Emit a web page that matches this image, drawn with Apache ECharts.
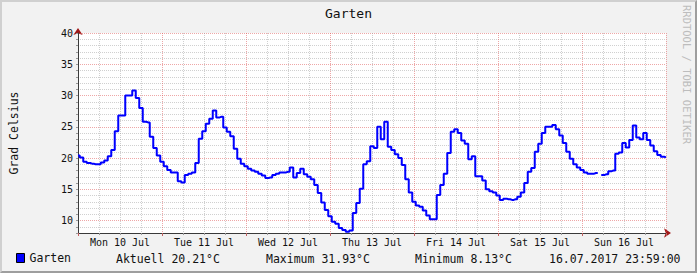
<!DOCTYPE html>
<html><head><meta charset="utf-8">
<script src="https://cdn.jsdelivr.net/npm/echarts@6/dist/echarts.min.js"></script>
<style>
html,body{margin:0;padding:0;background:#f2f2f2;}
#wrap{position:relative;width:697px;height:273px;}
#c{width:697px;height:273px;}
#frame{position:absolute;left:0;top:0;width:697px;height:273px;box-sizing:border-box;border-style:solid;border-width:2px;border-color:#d0d0d0 #9e9e9e #9e9e9e #d0d0d0;pointer-events:none;}
</style></head>
<body><div id="wrap"><div id="c"></div><div id="frame"></div></div>
<script>
// ---- data ----
const chartTitle = 'Garten';
const yAxisName = 'Grad Celsius';
const seriesName = 'Garten';
const dayLabels = ['Mon 10 Jul','Tue 11 Jul','Wed 12 Jul','Thu 13 Jul','Fri 14 Jul','Sat 15 Jul','Sun 16 Jul'];
const yTickLabels = [10, 15, 20, 25, 30, 35, 40];
const legendStats = ['Aktuell 20.21°C', 'Maximum 31.93°C', 'Minimum 8.13°C', '16.07.2017 23:59:00'];
const watermark = 'RRDTOOL / TOBI OETIKER';
// hourly temperatures (°C), one array per day
const mon = [20.4,20.1,19.4,19.2,19.1,19.0,19.0,19.3,19.6,20.3,21.3,24.3,26.8,26.8,30.0,30.0,30.8,29.6,28.0,25.8,25.7,23.4,21.6,20.4];
const tue = [19.4,18.7,18.1,17.7,17.7,16.3,16.1,17.3,17.5,17.7,19.2,23.1,24.3,25.5,26.3,27.6,26.5,26.6,24.9,24.2,23.5,21.5,19.9,19.1];
const wed = [18.7,18.3,18.0,17.8,17.5,17.2,16.8,16.9,17.3,17.5,17.7,17.7,17.8,18.5,16.9,17.6,18.3,17.4,17.0,16.6,15.7,14.4,12.9,11.7];
const thu = [10.7,9.8,9.5,8.8,8.5,8.2,8.4,11.2,12.8,15.1,19.0,19.5,21.9,21.6,25.0,23.0,25.8,21.8,21.3,20.6,20.0,18.9,16.6,14.5];
const fri = [13.0,12.4,12.2,11.6,10.8,10.2,10.2,14.1,15.7,17.5,20.8,24.2,24.6,24.0,22.8,22.3,19.8,20.3,17.1,17.1,16.4,15.0,14.7,14.5];
const sat = [14.0,13.3,13.5,13.4,13.3,13.4,13.8,14.5,16.0,17.8,18.4,21.0,22.3,24.0,25.0,25.0,25.3,24.6,23.6,22.4,21.0,19.9,19.0,18.5];
const sun = [18.1,17.7,17.5,17.5,17.6,null,17.3,17.4,17.9,18.0,20.7,20.9,22.4,21.7,22.9,25.2,23.3,23.0,24.0,22.9,22.0,21.1,20.5,20.2,20.1];

// ---- build ----
const temps = [].concat(mon, tue, wed, thu, fri, sat, sun);
const seriesData = temps.map((v, i) => [i, v]);
const MONO = "'DejaVu Sans Mono', monospace";
const minorC = 'rgba(150,150,150,0.45)';
const majorC = 'rgba(222,80,80,0.5)';
const hoursPerDay = 24;
const totalHours = dayLabels.length * hoursPerDay;

const chart = echarts.init(document.getElementById('c'), null, {renderer: 'svg'});
const statX = [116, 266, 415, 549];
chart.setOption({
  animation: false,
  backgroundColor: '#f2f2f2',
  title: {text: chartTitle, left: 'center', top: 7, padding: 0,
    textStyle: {fontFamily: MONO, fontSize: 13, fontWeight: 'normal', color: '#111'}},
  grid: {left: 66, right: 31, top: 33, bottom: 40, show: true, backgroundColor: '#fff', borderWidth: 0},
  legend: {show: true, left: 16, top: 252, padding: 0, itemWidth: 8, itemHeight: 9, icon: 'rect', itemGap: 10,
    itemStyle: {borderColor: '#000', borderWidth: 1},
    textStyle: {fontFamily: MONO, fontSize: 11.5, color: '#111'}, data: [seriesName]},
  xAxis: [{
    type: 'value', min: 0, max: totalHours, interval: hoursPerDay, position: 'bottom', z: 3,
    axisLine: {show: true, symbol: 'none', lineStyle: {color: '#3a3a3a', width: 1}},
    axisTick: {show: true, length: 3, lineStyle: {color: '#c06060'}},
    minorTick: {show: true, splitNumber: 4, length: 2, lineStyle: {color: '#999'}},
    axisLabel: {show: false},
    splitLine: {show: true, lineStyle: {color: majorC, type: [1, 1], width: 1}},
    minorSplitLine: {show: true, lineStyle: {color: minorC, type: [1, 1], width: 1}}
  }, {
    type: 'value', min: 0, max: totalHours, interval: hoursPerDay / 2, position: 'bottom',
    axisLine: {show: false}, axisTick: {show: false}, splitLine: {show: false}, minorSplitLine: {show: false},
    axisLabel: {formatter: v => (v % hoursPerDay === hoursPerDay / 2 ? dayLabels[(v - hoursPerDay / 2) / hoursPerDay] : ''),
      fontFamily: MONO, fontSize: 10, color: '#111', margin: 4}
  }, {
    type: 'value', min: 0, max: totalHours, position: 'bottom', z: 1,
    axisLine: {show: true, symbol: ['none', 'arrow'], symbolSize: [7, 7], symbolOffset: [0, 5], lineStyle: {color: '#a01818'}},
    axisTick: {show: false}, axisLabel: {show: false}, splitLine: {show: false}, minorSplitLine: {show: false}
  }],
  yAxis: [{
    type: 'value', min: 8, max: 40, interval: 1, z: 3,
    name: yAxisName, nameLocation: 'middle', nameGap: 58, nameRotate: 90,
    nameTextStyle: {fontFamily: MONO, fontSize: 11.5, color: '#111'},
    axisLine: {show: true, symbol: 'none', lineStyle: {color: '#3a3a3a', width: 1}},
    axisTick: {show: true, length: 2, lineStyle: {color: '#999'}},
    axisLabel: {formatter: v => (yTickLabels.indexOf(v) >= 0 ? String(v) : ''), fontFamily: MONO, fontSize: 10, color: '#111', margin: 5},
    splitLine: {show: true, lineStyle: {color: [minorC, minorC, majorC, minorC, minorC], type: [1, 1], width: 1}}
  }, {
    type: 'value', min: 8, max: 40, position: 'left', z: 1,
    axisLine: {show: true, symbol: ['none', 'arrow'], symbolSize: [7, 7], symbolOffset: [0, 5], lineStyle: {color: '#a01818'}},
    axisTick: {show: false}, axisLabel: {show: false}, splitLine: {show: false}, minorSplitLine: {show: false}
  }],
  series: [{
    name: seriesName, type: 'line', xAxisIndex: 0, yAxisIndex: 0, step: 'middle',
    showSymbol: false, symbol: 'none', connectNulls: false,
    itemStyle: {color: '#0000ff'},
    lineStyle: {color: '#0000ff', width: 2},
    data: seriesData
  }],
  graphic: legendStats.map((t, i) => ({
    type: 'text', x: statX[i], y: 259,
    style: {text: t, font: '11.5px ' + MONO, fill: '#111', textVerticalAlign: 'middle', verticalAlign: 'middle'}
  })).concat([{
    type: 'text', x: 692, y: 5, rotation: -Math.PI / 2,
    style: {text: watermark, font: '10.5px ' + MONO, fill: '#bdbdbd', textVerticalAlign: 'top', verticalAlign: 'top'}
  }])
});
</script>
</body></html>
